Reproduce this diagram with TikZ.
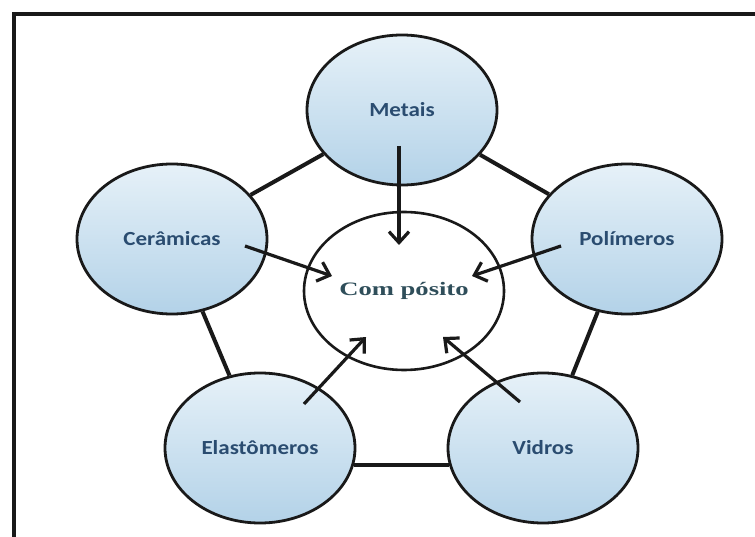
\documentclass[tikz,border=0pt]{standalone}
\usepackage{fontspec}
\usetikzlibrary{arrows.meta,calc,shapes.geometric}
\newfontfamily\lblfont[FakeStretch=1.15]{Carlito}
\newfontfamily\compfont[FakeStretch=1.4]{Liberation Serif}
\definecolor{lbl}{HTML}{2A4C70}
\definecolor{comptxt}{HTML}{2F4E5A}
\definecolor{topblue}{HTML}{E6F1F8}
\definecolor{botblue}{HTML}{B3D2E8}
\begin{document}
\begin{tikzpicture}[x=1pt,y=-1pt,
  mat/.style={ellipse,draw=black!90,line width=2.8pt,minimum width=190pt,minimum height=150pt,inner sep=0pt,
    top color=topblue,bottom color=botblue,text=lbl,font=\lblfont\bfseries\fontsize{20}{22}\selectfont},
  comp/.style={ellipse,draw=black!90,line width=2.6pt,fill=white,minimum width=200pt,minimum height=158pt,inner sep=0pt,
    text=comptxt,font=\compfont\bfseries\fontsize{19}{21}\selectfont},
  edge/.style={line width=4pt,black!90},
  arr/.style={line width=3.2pt,black!90,-{Straight Barb[length=11pt,width=20pt,line width=3.2pt]}}]
\useasboundingbox (0,0) rectangle (755,537);
\fill[white] (0,0) rectangle (755,537);
\draw[line width=4pt,black!90] (13.5,537) -- (13.5,14.5) -- (755,14.5);
\node[mat] (met) at (402,110) {Metais};
\node[mat] (cer) at (172,239) {Cerâmicas};
\node[mat] (pol) at (627,239) {Polímeros};
\node[mat] (ela) at (260,448) {Elastômeros};
\node[mat] (vid) at (543,448) {Vidros};
\node[comp] (cmp) at (404,291) {Com pósito};
\draw[edge] (met) -- (cer);
\draw[edge] (met) -- (pol);
\draw[edge] (cer) -- (ela);
\draw[edge] (pol) -- (vid);
\draw[edge] (ela.-10) -- (vid.190);
\draw[arr] ($(met)+(-3,36)$) -- ($(cmp)+(-5,-46)$);
\draw[arr] ($(cer)+(73,7)$) -- ($(cmp)+(-72,-15)$);
\draw[arr] ($(pol)+(-66,7)$) -- ($(cmp)+(68,-15)$);
\draw[arr] ($(ela)+(44,-44)$) -- ($(cmp)+(-38,46)$);
\draw[arr] ($(vid)+(-23,-46)$) -- ($(cmp)+(39,46)$);
\end{tikzpicture}
\end{document}
